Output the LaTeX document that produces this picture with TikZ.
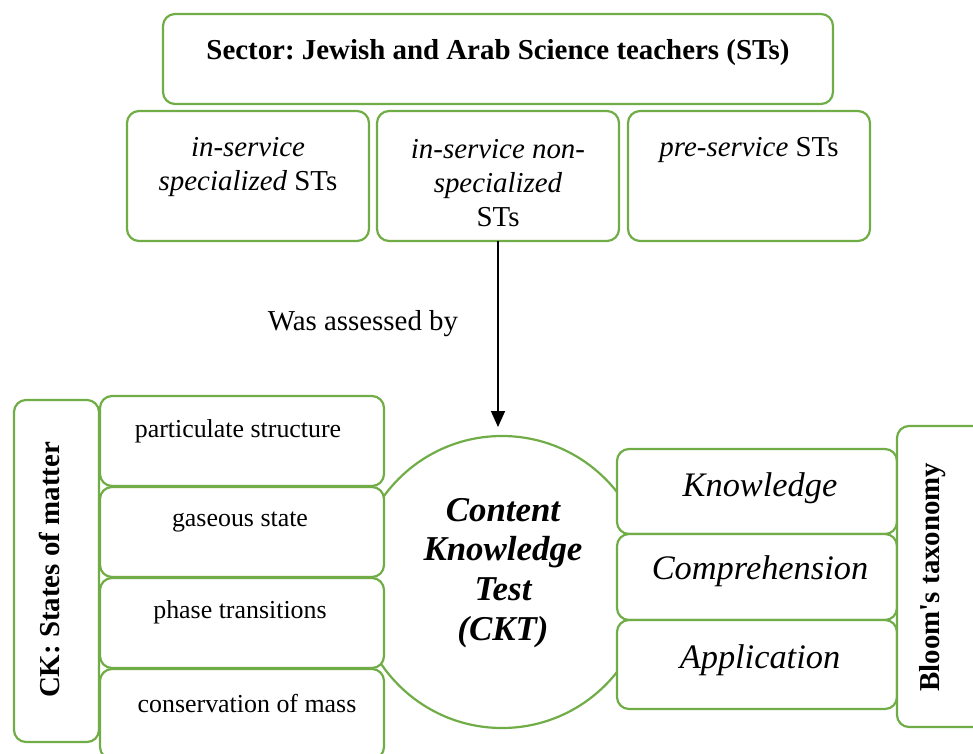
\documentclass[tikz,border=0pt]{standalone}
\usepackage{fontspec}
\setmainfont{Liberation Serif}
\usetikzlibrary{arrows.meta}
\definecolor{grn}{HTML}{70AD47}
\newcommand\gbx[5]{\node[gbox, anchor=north west, minimum width=#4bp, minimum height=#5bp] (#1) at (#2,#3) {};}
\frenchspacing
\begin{document}
\begin{tikzpicture}[x=1bp,y=-1bp,
  gbox/.style={draw=grn, line width=2.2bp, rounded corners=12bp, fill=white, inner sep=0pt, outer sep=0pt},
  mainf/.style={font=\fontsize{29}{34}\selectfont, align=center, inner sep=0pt},
  smallf/.style={font=\fontsize{26}{30}\selectfont, inner sep=0pt},
  bigit/.style={font=\fontsize{34.5}{40}\selectfont\itshape, inner sep=0pt},
  vert/.style={font=\fontsize{29}{34}\selectfont\bfseries, rotate=90, inner sep=0pt}]
\useasboundingbox (0,0) rectangle (973,754);
% top
\gbx{top}{163}{14}{670}{90}
\node[mainf, font=\fontsize{29}{34}\selectfont\bfseries] (toptxt) at (498,53) {Sector: Jewish and Arab Science teachers (STs)};
\gbx{ra}{127}{111}{242}{130}
\gbx{rb}{377}{111}{242}{130}
\gbx{rc}{628}{111}{242}{130}
\node[mainf] (ratxt) at (248,167) {\textit{in-service}\\\textit{specialized} STs};
\node[mainf] (rbtxt) at (498,183) {\textit{in-service non-}\\\textit{specialized}\\STs};
\node[mainf] (rctxt) at (749,150) {\textit{pre-service} STs};
% circle
\node[circle, draw=grn, line width=2.2bp, fill=white, minimum size=292bp, inner sep=0pt, outer sep=0pt] (ckt) at (502,582) {};
\node[align=center, inner sep=0pt, font=\fontsize{35}{40}\selectfont\bfseries\itshape] (ckttxt) at (503,573) {Content\\Knowledge\\Test\\(CKT)};
% arrow
\draw[line width=1.5bp, -{Triangle[width=14bp,length=16bp]}, shorten >=9bp] (rb.south) -- (rb.south |- ckt.north);
\node[mainf] (was) at (363,324) {Was assessed by};
% left
\gbx{ck}{14}{400}{85}{342}
\node[vert] (cktx) at (50,570) {CK: States of matter};
\gbx{la}{100}{396}{284}{90}
\gbx{lb}{100}{487}{284}{90}
\gbx{lc}{100}{578}{284}{90}
\gbx{ld}{100}{669}{284}{90}
\node[smallf] (latxt) at (238,431) {particulate structure};
\node[smallf] (lbtxt) at (240,522) {gaseous state};
\node[smallf] (lctxt) at (240,612) {phase transitions};
\node[smallf] (ldtxt) at (247,703) {conservation of mass};
% right
\gbx{ka}{617}{449}{280}{85}
\gbx{kb}{617}{534}{280}{86}
\gbx{kc}{617}{620}{280}{89}
\node[bigit] (katxt) at (760,488) {Knowledge};
\node[bigit] (kbtxt) at (760,571) {Comprehension};
\node[bigit] (kctxt) at (760,660) {Application};
\gbx{bl}{897}{426}{92}{301}
\node[vert] (bltxt) at (933,577) {Bloom\textquotesingle s taxonomy};
\end{tikzpicture}
\end{document}
